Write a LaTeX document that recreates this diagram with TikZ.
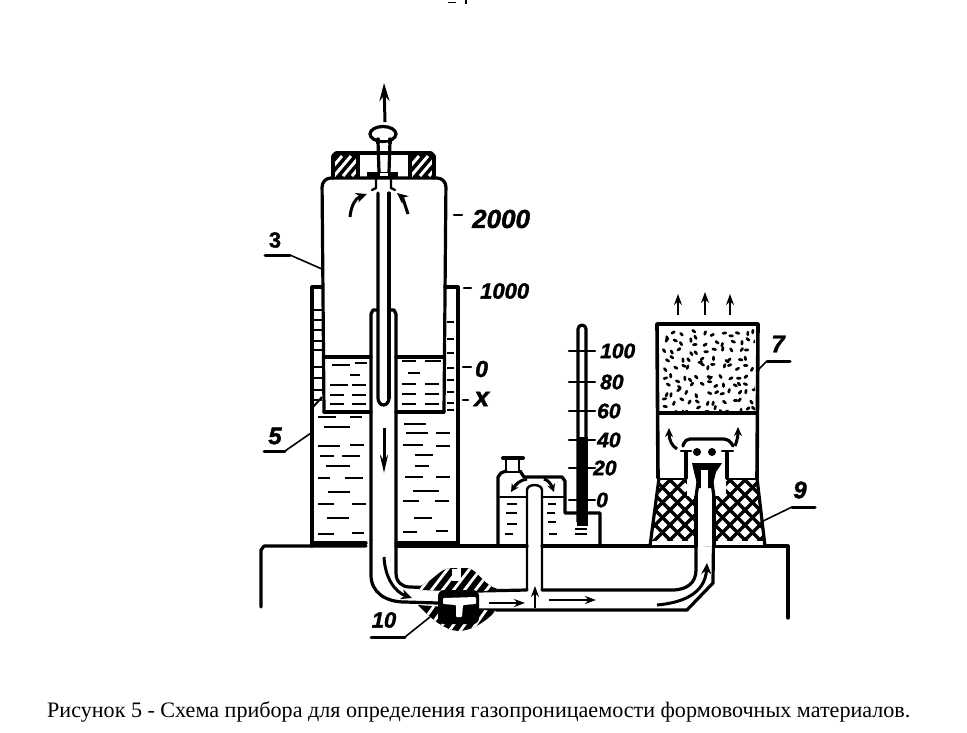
\documentclass[tikz,border=0pt]{standalone}
\usepackage{fontspec}
\setmainfont{Liberation Serif}
\newfontfamily\capfont{Liberation Serif}
\newfontfamily\handfont[BoldFeatures={FakeBold=1.2},BoldItalicFeatures={FakeBold=1.6}]{Liberation Sans}
\usetikzlibrary{arrows.meta}
\tikzset{
  wall/.style={line width=3.2pt,line join=round,line cap=round},
  thin wall/.style={line width=2.4pt,line join=round,line cap=round},
  leader/.style={line width=1.6pt},
  bar/.style={line width=3pt,line cap=round},
  flow/.style={line width=2pt,-{Stealth[length=11pt,width=8pt]}},
  curved flow/.style={line width=3pt,-{Stealth[length=11pt,width=10pt]}},
  hand/.style={font=\handfont\bfseries\itshape\fontsize{24}{24}\selectfont,inner sep=0pt},
  scale mark/.style={font=\handfont\bfseries\itshape\fontsize{21}{21}\selectfont,inner sep=0pt,anchor=west},
  dash mark/.style={line width=2.4pt,line cap=round},
  hatch/.style={line width=3pt}
}
\begin{document}
\begin{tikzpicture}[x=1pt,y=-1pt]
\useasboundingbox (0,0) rectangle (967,732);
\fill[white] (0,0) rectangle (967,732);
% scan remnant at the top edge
\fill (448,1.5) rectangle (456,3.2);
\fill (465,0) rectangle (466.5,3.5);
% ---- base
\draw[wall] (261,607) -- (261,550) -- (264,546) -- (366,546);
\draw[wall] (396,546) -- (527,546);
\draw[wall] (542,546) -- (696,546);
\draw[wall] (714,546) -- (788,546) -- (788,618);
% ---- outer cylinder 5
\draw[wall] (322,287) -- (312,287) -- (312,546);
\draw[wall] (445,287) -- (458,287) -- (458,546);
\draw[wall] (396,543) -- (458,543);
\draw[wall] (312,543) -- (366,543);
% ---- bell 3
\draw[wall,rounded corners=9pt] (324,412) -- (322,178) -- (446,178) -- (444,412);
\draw[wall] (324,412) -- (371,412);
\draw[wall] (396,412) -- (444,412);
\draw[wall] (324,357) -- (371,357);
\draw[wall] (396,357) -- (444,357);
% ---- stopper
\begin{scope}
\clip (333,154) rectangle (358,177);
\fill (333,154) rectangle (358,177);
\foreach \k in {0,9,...,54} \draw[white,hatch] (325+\k,176) -- (342+\k,156);
\end{scope}
\begin{scope}
\clip (410,154) rectangle (434,177);
\fill (410,154) rectangle (434,177);
\foreach \k in {0,9,...,54} \draw[white,hatch] (402+\k,176) -- (419+\k,156);
\end{scope}
\draw[wall,line width=3.6pt] (333,178) -- (333,156) -- (336,153) -- (431,153) -- (434,156) -- (434,178);
\draw[wall] (358,154) -- (358,177);
\draw[wall] (410,154) -- (410,177);
\fill (367,172) rectangle (398,179);
% ---- rod and handle
\draw[wall] (383,134) ellipse (13 and 7.5);
\draw[wall] (378,141) -- (379,172);
\draw[wall] (390,141) -- (389,172);
\fill[white] (376.5,133) rectangle (389.5,139.5);
\draw[wall] (378,139) -- (378,143) (390,139) -- (390,143);
\fill[white] (380,173) rectangle (388,176);
\draw[thin wall] (376,179) -- (376,188) -- (372,190);
\draw[thin wall] (391,179) -- (391,188) -- (395,190);
% ---- thin inner tube
\draw[wall] (378,193) -- (378,398) arc[start angle=180,end angle=0,x radius=5.5,y radius=7];
\draw[wall] (389,193) -- (389,398);
% ---- wide central tube
\draw[wall] (371,540) -- (371,314) -- (373,310) -- (378,310);
\draw[wall] (396,540) -- (396,314) -- (394,310) -- (389,310);
% ---- U pipe
\draw[wall] (371,540) -- (371,575) .. controls (371,592) and (385,602) .. (405,602) -- (438,603);
\draw[wall] (396,540) -- (396,573) .. controls (396,582) and (402,587) .. (410,587) -- (438,588);
\draw[wall] (478,591) -- (527,590);
\draw[wall] (542,590) -- (672,590) .. controls (688,590) and (696,582) .. (696,570) -- (696,497);
\draw[wall] (478,610) -- (687,610) -- (713,583) -- (714,497);
% ---- tee tube and jar
\draw[thin wall] (527,590) -- (527,490) arc[start angle=180,end angle=360,x radius=7.5,y radius=5] -- (542,590);
\draw[wall] (498,546) -- (498,477) -- (501,473) -- (506,471);
\draw[wall] (520,471) -- (524,477) -- (562,477) -- (565,481) -- (565,513) -- (600,513) -- (600,546);
\draw[thin wall] (500,497) -- (527,497);
\draw[thin wall] (542,497) -- (565,497);
\draw[thin wall] (506,460) -- (506,472) (519,460) -- (519,472) (506,472) -- (519,472);
\draw[wall,line width=4pt] (503,458) -- (523,458);
\draw[curved flow,-{Stealth[length=8pt,width=8pt]}] (527,479) .. controls (520,480) and (516,484) .. (511,492);
\draw[curved flow,-{Stealth[length=8pt,width=8pt]}] (544,479) .. controls (548,480) and (551,484) .. (554,492);
% ---- thermometer
\draw[wall] (578,522) -- (578,329) arc[start angle=180,end angle=360,x radius=4,y radius=4] -- (586,522);
\fill (579,437) rectangle (588,524);
\fill (577,519) rectangle (588,526);
\foreach \y in {351,382,411,440,468,500} \draw[thin wall] (569,\y) -- (595,\y);
\foreach \y/\t/\x/\n in {351/100/600/t100,382/80/600/t80,411/60/597/t60,440/40/597/t40,468/20/593/t20,500/0/596/t0}
  \node[scale mark] (\n) at (\x,\y) {\t};
% ---- filter 7
\pgfmathsetseed{11}
\begin{scope}
\clip (660,327) rectangle (755,411);
\foreach \i in {0,...,11}{\foreach \j in {0,...,9}{
  \pgfmathsetmacro{\px}{662+\i*8.2+rnd*7}
  \pgfmathsetmacro{\py}{330+\j*8.4+rnd*7}
  \pgfmathsetmacro{\pa}{rnd*180}
  \draw[line width=2.7pt,line cap=round] (\px,\py) -- +(\pa:2.8);
}}
\end{scope}
\draw[wall,line width=3.6pt] (658,478) -- (657,324) -- (758,324) -- (757,478);
\draw[wall] (658,413) -- (757,413);
% mesh
\begin{scope}
\clip (659,478) -- (757,478) -- (765,546) -- (650,546) -- cycle;
\foreach \k in {0,15,...,270} \draw[line width=3.5pt] (600+\k,470) -- (680+\k,550);
\foreach \k in {0,15,...,270} \draw[line width=3.5pt] (540+\k,550) -- (620+\k,470);
\fill (659,476) rectangle (757,480);
\end{scope}
\fill[white] (687,465) rectangle (726,496);
\fill[white] (697,480) rectangle (713,546);
\fill[white] (652,541) rectangle (763,544.5);
\draw[wall] (659,478) -- (650,546);
\draw[wall] (757,478) -- (765,546);
\draw[wall] (696,546) -- (696,497);
\draw[wall] (714,546) -- (714,497);
% ---- nozzle cap
\draw[wall,rounded corners=5pt] (683,446) -- (685,439) -- (729,439) -- (733,446);
\draw[wall] (686,452) -- (686,478);
\draw[wall] (727,452) -- (727,478);
\draw[thin wall] (681,451) -- (691,451);
\draw[thin wall] (722,451) -- (733,451);
\fill (697,452) circle (4);
\fill (712,452) circle (4);
\fill (692,463) -- (722,463) -- (716,472) -- (712,488) -- (698,488) -- (694,472) -- cycle;
\fill[white] (701,470) rectangle (708,498);
\draw[wall] (696,497) -- (699,475);
\draw[wall] (714,497) -- (711,475);
\draw[curved flow,-{Stealth[length=9pt,width=8pt]}] (677,449) .. controls (672,446) and (669,440) .. (669,428);
\draw[curved flow,-{Stealth[length=9pt,width=8pt]}] (735,446) .. controls (737,441) and (738,436) .. (738,427);
% three arrows over filter
\draw[flow] (678,315) -- (678,294);
\draw[flow] (705,315) -- (705,292);
\draw[flow] (730,315) -- (730,294);
% ---- valve 10
\begin{scope}
\clip (416,587) .. controls (432,584) and (438,569) .. (450,568) -- (468,568) .. controls (478,570) and (484,586) .. (498,589) -- (478,592) -- (420,590) -- cycle;
\fill (412,560) rectangle (500,595);
\foreach \k in {0,11,...,110} \draw[white,line width=2.8pt] (408+\k,592) -- (428+\k,566);
\end{scope}
\fill[white] (452,569) rectangle (461,581);
\begin{scope}
\clip (418,605) -- (496,611) .. controls (485,622) and (472,631) .. (458,631) .. controls (445,630) and (432,620) .. (418,605) -- cycle;
\fill (415,602) rectangle (500,635);
\foreach \k in {0,11,...,99} \draw[white,line width=2.8pt] (414+\k,634) -- (434+\k,606);
\end{scope}
\fill[rounded corners=6pt] (438,590) rectangle (479,624);
\fill[white,rounded corners=1pt] (443,598) -- (476,597) -- (476,604) -- (463,605) -- (462,617) -- (456,617) -- (456,605) -- (443,604) -- cycle;
% ---- water dashes
\foreach \x/\y/\w in {
 332/365/18,355/363/12,350/375/10,330/385/18,352/385/14,330/395/14,352/395/14,330/404/14,352/404/14,
 402/361/14,425/361/16,408/373/12,402/384/14,425/384/14,402/394/14,425/394/14,402/404/14,425/404/14,
 318/417/18,350/417/12,324/427/26,318/446/22,350/445/14,320/456/14,342/456/18,326/466/24,318/478/12,345/478/18,328/492/22,318/504/16,352/504/14,327/518/22,318/534/16,352/533/12,
 404/424/22,406/433/22,436/433/14,403/445/20,436/446/14,415/455/18,415/466/14,405/477/18,436/477/14,413/491/26,403/501/16,435/501/14,414/518/18,403/532/14,436/531/12,
 507/504/10,506/513/11,507/524/10,505/534/8,
 548/504/8,547/513/8,548/522/8,549/534/8,575/529/12,575/534/12}
 {\draw[line width=2.4pt] (\x,\y) -- +(\w,0);}
% left annulus rungs
\foreach \y in {310,320,330,341,350,367,378,390,400}
  \draw[line width=2pt] (313,\y) -- (322,\y);
\draw[line width=2pt] (313,407) -- (322,397);
% right annulus marks
\foreach \y in {322,339,353,368,380,392,403,410}
  \draw[line width=2.2pt] (447,\y) -- (454,\y);
% ---- flow arrows
\draw[flow,line width=3pt,-{Stealth[length=18pt,width=10pt]}] (385,122) -- (384,83);
\draw[curved flow] (350,217) .. controls (351,205) and (356,198) .. (367,194);
\draw[curved flow] (408,214) .. controls (405,205) and (403,198) .. (397,193);
\draw[flow,line width=3pt,-{Stealth[length=18pt,width=8pt]}] (384,428) -- (384,473);
\draw[curved flow] (384,557) .. controls (385,578) and (395,592) .. (412,598);
\draw[flow,line width=2.6pt] (489,603) -- (525,603);
\draw[flow,line width=2.6pt] (549,600) -- (596,600);
\draw[flow] (535,608) -- (535,586);
\draw[curved flow] (657,605) .. controls (680,603) and (705,595) .. (707,563);
% ---- labels
\node[hand,font=\handfont\bfseries\fontsize{22}{22}\selectfont] (n3) at (275,240) {3};
\coordinate (p3) at (322,269);
\coordinate (u3a) at (265,255);
\coordinate (u3b) at (290,255);
\draw[bar] (u3a) -- (u3b);
\draw[leader] (u3b) -- (p3);
\node[hand] (n5) at (275,436) {5};
\coordinate (u5a) at (264,451);
\coordinate (u5b) at (285,451);
\coordinate (p5) at (311,433);
\draw[bar] (u5a) -- (u5b);
\draw[leader] (u5b) -- (p5);
\node[hand,font=\handfont\bfseries\itshape\fontsize{22}{22}\selectfont] (n10) at (384,620) {10};
\coordinate (u10a) at (371,637);
\coordinate (u10b) at (405,637);
\coordinate (p10) at (430,617);
\draw[bar] (u10a) -- (u10b);
\draw[leader] (u10b) -- (p10);
\node[hand] (n7) at (778,344) {7};
\coordinate (u7a) at (767,361);
\coordinate (u7b) at (790,361);
\coordinate (p7) at (757,371);
\draw[bar] (u7a) -- (u7b);
\draw[leader] (u7a) -- (p7);
\node[hand] (n9) at (800,490) {9};
\coordinate (u9a) at (792,507);
\coordinate (u9b) at (815,507);
\coordinate (p9) at (761,522);
\draw[bar] (u9a) -- (u9b);
\draw[leader] (u9a) -- (p9);
\node[scale mark,font=\handfont\bfseries\itshape\fontsize{26}{26}\selectfont] (m2000) at (472,219) {2000};
\draw[dash mark] (454,215) -- (462,215);
\node[scale mark,font=\handfont\bfseries\itshape\fontsize{22}{22}\selectfont] (m1000) at (480,291) {1000};
\draw[dash mark] (464,288) -- (471,288);
\node[scale mark,font=\handfont\bfseries\itshape\fontsize{23}{23}\selectfont] (m0) at (475,369) {0};
\draw[dash mark] (463,367) -- (471,367);
\node[scale mark,font=\handfont\bfseries\itshape\fontsize{27}{27}\selectfont] (mx) at (474,399) {x};
\draw[dash mark] (463,400) -- (468,400);
% ---- caption
\node[inner sep=0pt,anchor=west,font=\capfont\fontsize{22.1}{24}\selectfont] (cap) at (47,712)
 {Рисунок 5 - Схема прибора для определения газопроницаемости формовочных материалов.};
\end{tikzpicture}
\end{document}
